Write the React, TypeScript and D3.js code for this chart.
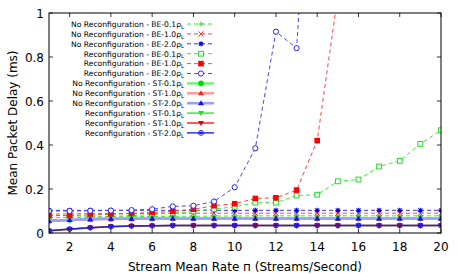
import React from 'react';
import * as d3 from 'd3';

// x = stream mean rate (1..20)
const rates = d3.range(1, 21);

// No Reconfiguration - BE
const nrBE01 = [0.07, 0.071, 0.072, 0.073, 0.074, 0.075, 0.076, 0.076, 0.077, 0.077, 0.078, 0.078, 0.078, 0.078, 0.078, 0.078, 0.078, 0.078, 0.078, 0.078];
const nrBE10 = [0.086, 0.087, 0.088, 0.088, 0.089, 0.089, 0.09, 0.09, 0.09, 0.09, 0.09, 0.09, 0.09, 0.09, 0.09, 0.09, 0.09, 0.09, 0.09, 0.09];
const nrBE20 = [0.103, 0.103, 0.103, 0.103, 0.103, 0.103, 0.103, 0.103, 0.103, 0.103, 0.103, 0.103, 0.103, 0.103, 0.103, 0.103, 0.103, 0.103, 0.103, 0.103];
// Reconfiguration - BE
const rBE01 = [0.07, 0.071, 0.073, 0.075, 0.079, 0.084, 0.09, 0.098, 0.109, 0.119, 0.138, 0.138, 0.17, 0.174, 0.235, 0.243, 0.302, 0.328, 0.405, 0.467];
const rBE10 = [0.079, 0.08, 0.082, 0.085, 0.089, 0.093, 0.098, 0.108, 0.124, 0.133, 0.157, 0.16, 0.195, 0.42, 1.08];
const rBE20 = [0.1, 0.1, 0.101, 0.102, 0.104, 0.108, 0.121, 0.124, 0.143, 0.208, 0.385, 0.915, 0.84, 2.3];
// No Reconfiguration - ST
const nrST01 = [0.055, 0.059, 0.063, 0.064, 0.065, 0.065, 0.066, 0.066, 0.066, 0.066, 0.066, 0.066, 0.066, 0.066, 0.066, 0.066, 0.066, 0.066, 0.066, 0.066];
const nrST10 = [0.055, 0.059, 0.063, 0.064, 0.065, 0.066, 0.066, 0.066, 0.066, 0.066, 0.066, 0.066, 0.066, 0.066, 0.066, 0.066, 0.066, 0.066, 0.066, 0.066];
const nrST20 = [0.055, 0.059, 0.063, 0.065, 0.065, 0.066, 0.066, 0.066, 0.066, 0.066, 0.066, 0.066, 0.066, 0.066, 0.066, 0.066, 0.066, 0.066, 0.066, 0.066];
// Reconfiguration - ST
const rST01 = [0.01, 0.017, 0.024, 0.029, 0.032, 0.033, 0.034, 0.034, 0.034, 0.034, 0.034, 0.034, 0.034, 0.034, 0.034, 0.034, 0.034, 0.034, 0.034, 0.034];
const rST10 = [0.01, 0.017, 0.024, 0.029, 0.032, 0.033, 0.034, 0.034, 0.034, 0.034, 0.034, 0.034, 0.034, 0.034, 0.034, 0.034, 0.034, 0.034, 0.034, 0.034];
const rST20 = [0.01, 0.018, 0.024, 0.029, 0.032, 0.033, 0.034, 0.034, 0.034, 0.034, 0.034, 0.034, 0.034, 0.034, 0.034, 0.034, 0.034, 0.034, 0.034, 0.034];

const xTicks = [2, 4, 6, 8, 10, 12, 14, 16, 18, 20];
const yTicks = [0, 0.2, 0.4, 0.6, 0.8, 1];

type Marker = 'plus' | 'cross' | 'star' | 'osquare' | 'fsquare' | 'ocircle' | 'fcircle' | 'ftri' | 'finvtri' | 'dcircle';

interface Series {
  prefix: string;
  name: string;
  values: number[];
  color: string;
  width: number;
  dashed: boolean;
  marker: Marker;
  markerColor: string;
}

const series: Series[] = [
  { prefix: 'No Reconfiguration', name: 'BE-0.1', values: nrBE01, color: '#33ee33', width: 1, dashed: true, marker: 'plus', markerColor: '#22dd22' },
  { prefix: 'No Reconfiguration', name: 'BE-1.0', values: nrBE10, color: '#ff4444', width: 1, dashed: true, marker: 'cross', markerColor: '#ff2222' },
  { prefix: 'No Reconfiguration', name: 'BE-2.0', values: nrBE20, color: '#3333ff', width: 1, dashed: true, marker: 'star', markerColor: '#0000ee' },
  { prefix: 'Reconfiguration', name: 'BE-0.1', values: rBE01, color: '#33ee33', width: 1, dashed: true, marker: 'osquare', markerColor: '#22dd22' },
  { prefix: 'Reconfiguration', name: 'BE-1.0', values: rBE10, color: '#ff4444', width: 1, dashed: true, marker: 'fsquare', markerColor: '#ff0000' },
  { prefix: 'Reconfiguration', name: 'BE-2.0', values: rBE20, color: '#4444ff', width: 1, dashed: true, marker: 'ocircle', markerColor: '#2222ff' },
  { prefix: 'No Reconfiguration', name: 'ST-0.1', values: nrST01, color: '#55ff55', width: 2.2, dashed: false, marker: 'fcircle', markerColor: '#00dd00' },
  { prefix: 'No Reconfiguration', name: 'ST-1.0', values: nrST10, color: '#ff9d9d', width: 2.6, dashed: false, marker: 'ftri', markerColor: '#ff2222' },
  { prefix: 'No Reconfiguration', name: 'ST-2.0', values: nrST20, color: '#9d9dff', width: 2.6, dashed: false, marker: 'ftri', markerColor: '#1111ee' },
  { prefix: 'Reconfiguration', name: 'ST-0.1', values: rST01, color: '#44ee44', width: 1.6, dashed: false, marker: 'finvtri', markerColor: '#22dd22' },
  { prefix: 'Reconfiguration', name: 'ST-1.0', values: rST10, color: '#ff3333', width: 1.6, dashed: false, marker: 'finvtri', markerColor: '#ee0000' },
  { prefix: 'Reconfiguration', name: 'ST-2.0', values: rST20, color: '#2222dd', width: 1.4, dashed: false, marker: 'dcircle', markerColor: '#1111ee' },
];

const W = 457;
const H = 274;
const plot = { left: 49, right: 441, top: 13, bottom: 233 };
const font = '"DejaVu Sans", sans-serif';

const drawMarker = (m: Marker, cx: number, cy: number, c: string, key: string) => {
  const s = 2.6;
  switch (m) {
    case 'plus':
      return <path key={key} d={`M${cx - s},${cy}H${cx + s}M${cx},${cy - s}V${cy + s}`} stroke={c} strokeWidth={1} fill="none" />;
    case 'cross':
      return <path key={key} d={`M${cx - s},${cy - s}L${cx + s},${cy + s}M${cx - s},${cy + s}L${cx + s},${cy - s}`} stroke={c} strokeWidth={1} fill="none" />;
    case 'star':
      return <g key={key}>
        <path d={`M${cx - s},${cy}H${cx + s}M${cx},${cy - s}V${cy + s}M${cx - 2},${cy - 2}L${cx + 2},${cy + 2}M${cx - 2},${cy + 2}L${cx + 2},${cy - 2}`} stroke={c} strokeWidth={1} fill="none" />
        <rect x={cx - 1.6} y={cy - 1.6} width={3.2} height={3.2} fill={c} />
      </g>;
    case 'osquare':
      return <rect key={key} x={cx - 2.4} y={cy - 2.4} width={4.8} height={4.8} fill="white" stroke={c} strokeWidth={1} />;
    case 'fsquare':
      return <rect key={key} x={cx - 2.8} y={cy - 2.8} width={5.6} height={5.6} fill={c} />;
    case 'ocircle':
      return <circle key={key} cx={cx} cy={cy} r={2.6} fill="white" stroke={c} strokeWidth={1} />;
    case 'fcircle':
      return <circle key={key} cx={cx} cy={cy} r={2.8} fill={c} />;
    case 'ftri':
      return <path key={key} d={`M${cx},${cy - 3}L${cx + 3},${cy + 2}L${cx - 3},${cy + 2}Z`} fill={c} />;
    case 'finvtri':
      return <path key={key} d={`M${cx},${cy + 3}L${cx + 3},${cy - 2}L${cx - 3},${cy - 2}Z`} fill={c} />;
    case 'dcircle':
      return <g key={key}>
        <circle cx={cx} cy={cy} r={2.4} fill="none" stroke={c} strokeWidth={1} />
        <circle cx={cx} cy={cy} r={1.2} fill={c} />
      </g>;
  }
};

export default function App() {
  const x = d3.scaleLinear().domain([1, 20]).range([plot.left, plot.right]);
  const y = d3.scaleLinear().domain([0, 1]).range([plot.bottom, plot.top]);
  const line = d3.line<number>().x((_, i) => x(rates[i])).y(d => y(d));

  const legendTop = 24;
  const legendStep = 9.9;
  const legendTextX = 184;
  const sampleX0 = 187;
  const sampleX1 = 214;
  const sampleMid = 201;

  return (
    <svg width={W} height={H} style={{ position: 'absolute', left: 0, top: 0, background: 'white' }}>
      <defs>
        <clipPath id="plotArea">
          <rect x={plot.left} y={plot.top} width={plot.right - plot.left} height={plot.bottom - plot.top} />
        </clipPath>
      </defs>
      <rect width={W} height={H} fill="white" />

      {/* ticks, mirrored on all sides */}
      {xTicks.map(t => (
        <g key={'xt' + t}>
          <line x1={x(t)} x2={x(t)} y1={plot.bottom} y2={plot.bottom - 4} stroke="#000" strokeWidth={0.8} />
          <line x1={x(t)} x2={x(t)} y1={plot.top} y2={plot.top + 4} stroke="#000" strokeWidth={0.8} />
          <text x={x(t)} y={251} textAnchor="middle" fontFamily={font} fontSize={12} fill="#000">{t}</text>
        </g>
      ))}
      {yTicks.map(t => (
        <g key={'yt' + t}>
          <line x1={plot.left} x2={plot.left + 4} y1={y(t)} y2={y(t)} stroke="#000" strokeWidth={0.8} />
          <line x1={plot.right} x2={plot.right - 4} y1={y(t)} y2={y(t)} stroke="#000" strokeWidth={0.8} />
          <text x={44} y={y(t) + 4.5} textAnchor="end" fontFamily={font} fontSize={12} fill="#000">{t}</text>
        </g>
      ))}

      {/* series */}
      <g clipPath="url(#plotArea)">
        {series.map((s, i) => (
          <g key={'s' + i}>
            <path d={line(s.values) || ''} fill="none" stroke={s.color} strokeWidth={s.width}
              strokeDasharray={s.dashed ? '4,3' : undefined} />
            {s.values.map((v, j) => drawMarker(s.marker, x(rates[j]), y(v), s.markerColor, `m${i}-${j}`))}
          </g>
        ))}
      </g>

      {/* legend */}
      {series.map((s, i) => {
        const ly = legendTop + i * legendStep;
        return (
          <g key={'lg' + i}>
            <text x={legendTextX} y={ly + 2.8} textAnchor="end" fontFamily={font} fontSize={7.6} fill="#000">
              {`${s.prefix} - ${s.name}ρ`}
              <tspan fontSize={5.4} dy={1.8}>L</tspan>
            </text>
            <line x1={sampleX0} x2={sampleX1} y1={ly} y2={ly} stroke={s.color} strokeWidth={s.width}
              strokeDasharray={s.dashed ? '4,3' : undefined} />
            {drawMarker(s.marker, sampleMid, ly, s.markerColor, 'lm' + i)}
          </g>
        );
      })}

      {/* frame */}
      <rect x={plot.left} y={plot.top} width={plot.right - plot.left} height={plot.bottom - plot.top}
        fill="none" stroke="#000" strokeWidth={1} />

      {/* axis titles */}
      <text x={245} y={271} textAnchor="middle" fontFamily={font} fontSize={12} fill="#000">
        Stream Mean Rate п (Streams/Second)
      </text>
      <text transform={`translate(17,${(plot.top + plot.bottom) / 2}) rotate(-90)`} textAnchor="middle"
        fontFamily={font} fontSize={12} fill="#000">
        Mean Packet Delay (ms)
      </text>
    </svg>
  );
}
